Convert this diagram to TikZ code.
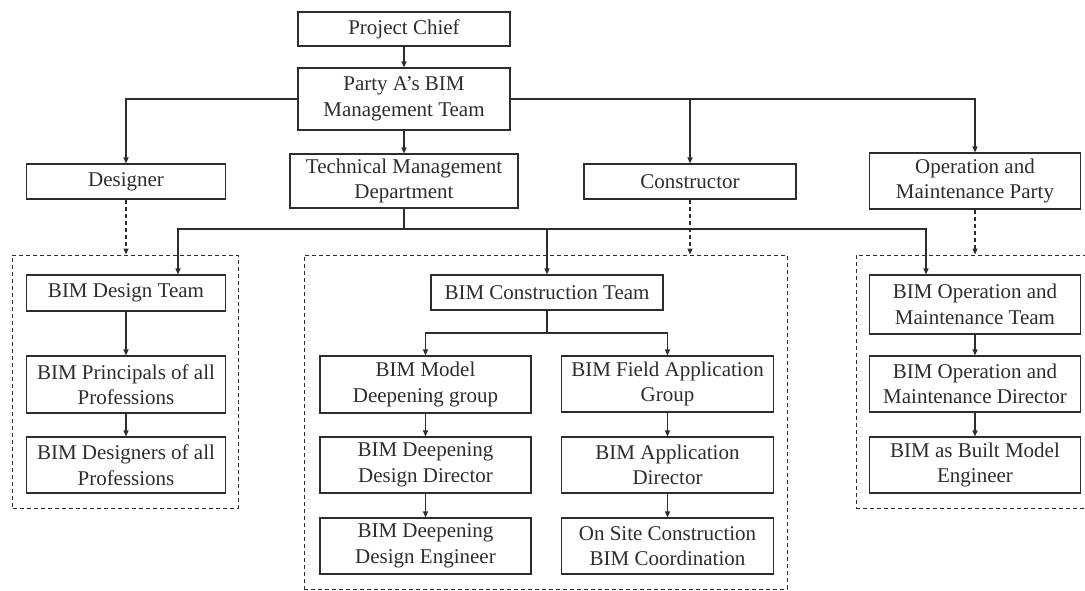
\documentclass[tikz,border=0pt]{standalone}
\usepackage{fontspec}
\setmainfont{Liberation Serif}
\usetikzlibrary{arrows.meta}
\definecolor{ink}{RGB}{45,45,45}
\begin{document}
\begin{tikzpicture}[x=1pt,y=-1pt,
  box/.style={draw=ink,line width=1.1pt,text=ink,inner sep=0pt,align=center,
    font=\fontsize{21}{25.5}\selectfont},
  grp/.style={draw=ink,line width=1pt,dash pattern=on 4pt off 3pt,inner sep=0pt},
  arr/.style={draw=ink,line width=1.1pt,-{Triangle[length=6pt,width=5pt]}},
  darr/.style={arr,dash pattern=on 4pt off 3pt},
  ln/.style={draw=ink,line width=1.1pt}]
\useasboundingbox (0,0) rectangle (1085,590);
% dashed groups
\node[grp,minimum width=225.3pt,minimum height=253pt] (lbox) at (125.35,381.5) {};
\node[grp,minimum width=483pt,minimum height=334pt] (mbox) at (545.5,422) {};
\node[grp,minimum width=234pt,minimum height=253pt] (rbox) at (973,381.5) {};
% top
\node[box,minimum width=212pt,minimum height=34pt] (chief) at (404,29) {Project Chief};
\node[box,minimum width=212pt,minimum height=62pt] (partyA) at (404,99) {Party A's BIM\\Management Team};
\node[box,minimum width=228pt,minimum height=54pt] (tech) at (404,181) {Technical Management\\Department};
\node[box,minimum width=199pt,minimum height=35pt] (designer) at (126,181.5) {Designer};
\node[box,minimum width=212pt,minimum height=35pt] (constructor) at (690,181.5) {Constructor};
\node[box,minimum width=211.5pt,minimum height=56pt] (operation) at (975,181) {Operation and\\Maintenance Party};
% left column
\node[box,minimum width=199pt,minimum height=36pt] (designteam) at (126,293) {BIM Design Team};
\node[box,minimum width=199pt,minimum height=57pt] (principals) at (126,384.5) {BIM Principals of all\\Professions};
\node[box,minimum width=199pt,minimum height=56pt] (designers) at (126,465) {BIM Designers of all\\Professions};
% middle
\node[box,minimum width=232pt,minimum height=35pt] (consteam) at (547,292.5) {BIM Construction Team};
\node[box,minimum width=211pt,minimum height=57pt] (deepgroup) at (425.5,384.5) {BIM Model\\Deepening group};
\node[box,minimum width=211pt,minimum height=56pt] (deepdir) at (425.5,465) {BIM Deepening\\Design Director};
\node[box,minimum width=211pt,minimum height=56pt] (deepeng) at (425.5,546) {BIM Deepening\\Design Engineer};
\node[box,minimum width=212pt,minimum height=56pt] (fieldgroup) at (667.5,384) {BIM Field Application\\Group};
\node[box,minimum width=212pt,minimum height=56pt] (appdir) at (667.5,465) {BIM Application\\Director};
\node[box,minimum width=212pt,minimum height=56pt] (onsite) at (667.5,546) {On Site Construction\\BIM Coordination};
% right column
\node[box,minimum width=211.5pt,minimum height=59pt] (opteam) at (975,304.5) {BIM Operation and\\Maintenance Team};
\node[box,minimum width=211.5pt,minimum height=56pt] (opdir) at (975,384) {BIM Operation and\\Maintenance Director};
\node[box,minimum width=211.5pt,minimum height=56pt] (asbuilt) at (975,465) {BIM as Built Model\\Engineer};
% junctions
\coordinate (tj) at (404,229);
\coordinate (cj) at (547,333);
% connectors
\draw[arr] (chief) -- (partyA);
\draw[arr] (partyA) -- (tech);
\draw[arr] (partyA.west) -| (designer.north);
\draw[arr] (partyA.east) -| (constructor.north);
\draw[arr] (partyA.east) -| (operation.north);
\draw[ln] (tech.south) -- (tj);
\draw[arr] (tj) -| ([xshift=52pt]designteam.north);
\draw[arr] (tj) -| (consteam.north);
\draw[arr] (tj) -| ([xshift=-49pt]opteam.north);
\draw[darr] (designer.south) -- (designer.south |- lbox.north);
\draw[darr] (constructor.south) -- (constructor.south |- mbox.north);
\draw[darr] (operation.south) -- (operation.south |- rbox.north);
\draw[arr] (designteam) -- (principals);
\draw[arr] (principals) -- (designers);
\draw[ln] (consteam.south) -- (cj);
\draw[arr] (cj) -| (deepgroup.north);
\draw[arr] (cj) -| (fieldgroup.north);
\draw[arr] (deepgroup) -- (deepdir);
\draw[arr] (deepdir) -- (deepeng);
\draw[arr] (fieldgroup) -- (appdir);
\draw[arr] (appdir) -- (onsite);
\draw[arr] (opteam) -- (opdir);
\draw[arr] (opdir) -- (asbuilt);
\end{tikzpicture}
\end{document}
